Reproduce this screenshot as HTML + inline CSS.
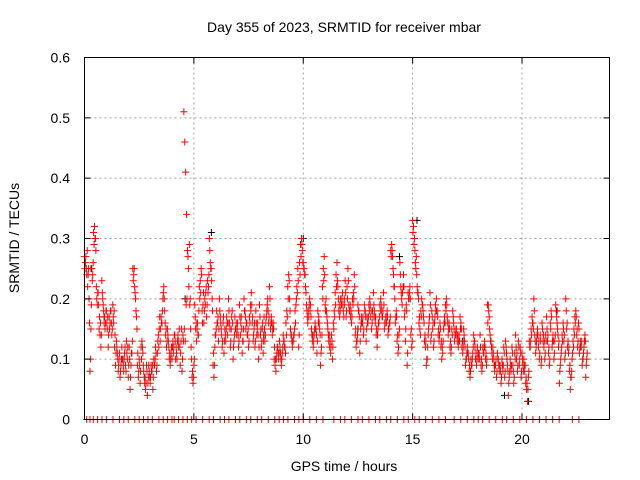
<!DOCTYPE html>
<html><head><meta charset="utf-8"><style>
body{margin:0;background:#fff}
svg{display:block;font-family:"Liberation Sans",sans-serif}
</style></head><body>
<svg id="chart" width="640" height="480" viewBox="0 0 640 480">
<g id="grid"></g>
<g id="marks"></g>
<rect x="84.5" y="57.5" width="525" height="362" fill="none" stroke="#000" stroke-width="1"/>
<g id="ticks"></g>
<text x="344" y="32" font-size="14" text-anchor="middle">Day 355 of 2023, SRMTID for receiver mbar</text>
<text x="344" y="471" font-size="14" text-anchor="middle">GPS time / hours</text>
<text transform="translate(19,238) rotate(-90)" font-size="14" text-anchor="middle">SRMTID / TECUs</text>
</svg>
<script>
const xTicks=[0,5,10,15,20];
const yTicks=[0,0.1,0.2,0.3,0.4,0.5,0.6];
const yTickLabels=["0","0.1","0.2","0.3","0.4","0.5","0.6"];
const hours=[0,1,2,3,4,5,6,7,8,9,10,11,12,13,14,15,16,17,18,19,20,21,22];
const h0=[.27,.26,.25,.28,.24,.20,.08,.15,.25,.24,.31,.32,.30,.22,.19,.21,.15,.14,.12,.23,.20,.18,.17,.16];
const h1=[.18,.15,.12,.17,.16,.18,.14,.19,.16,.12,.09,.13,.11,.08,.10,.07,.09,.12,.10,.08,.11,.09,.13,.10];
const h2=[.07,.12,.05,.09,.11,.25,.24,.22,.20,.17,.09,.07,.10,.06,.12,.13,.11,.08,.06,.05,.09,.04,.07,.08];
const h3=[.06,.09,.08,.05,.10,.09,.12,.08,.11,.14,.15,.13,.17,.16,.20,.22,.18,.14,.12,.15,.13,.10,.09,.11];
const h4=[.10,.13,.12,.14,.10,.11,.13,.12,.15,.09,.13,.08,.14,.51,.46,.41,.34,.28,.25,.29,.20,.12,.07,.06];
const h5=[.09,.19,.15,.13,.16,.14,.22,.23,.25,.18,.19,.16,.20,.21,.17,.23,.22,.30,.26,.25,.20,.09,.07,.12];
const h6=[.14,.18,.16,.13,.20,.17,.15,.12,.16,.11,.15,.13,.17,.14,.20,.16,.12,.15,.18,.10,.13,.17,.15,.14];
const h7=[.16,.12,.19,.14,.17,.11,.13,.20,.18,.15,.16,.14,.12,.17,.19,.21,.16,.13,.15,.12,.18,.14,.16,.10];
const h8=[.19,.14,.12,.15,.11,.17,.13,.16,.18,.20,.16,.22,.15,.17,.14,.16,.10,.09,.08,.11,.12,.10,.13,.11];
const h9=[.09,.11,.14,.13,.12,.16,.18,.22,.24,.20,.15,.14,.12,.13,.14,.18,.19,.22,.25,.12,.26,.29,.30,.28];
const h10=[.26,.25,.24,.21,.18,.16,.17,.20,.19,.15,.13,.12,.14,.16,.15,.11,.18,.17,.15,.09,.12,.22,.25,.27];
const h11=[.19,.20,.17,.15,.13,.12,.11,.14,.10,.16,.18,.21,.24,.26,.22,.18,.17,.20,.19,.21,.18,.20,.23,.17];
const h12=[.22,.25,.19,.18,.17,.16,.20,.21,.24,.14,.12,.13,.19,.18,.11,.15,.17,.16,.14,.19,.18,.13,.17,.16];
const h13=[.19,.20,.17,.15,.18,.21,.18,.16,.14,.12,.15,.16,.19,.20,.18,.17,.21,.15,.16,.17,.18,.14,.15,.16];
const h14=[.28,.29,.27,.24,.22,.16,.18,.13,.11,.14,.26,.22,.20,.21,.24,.17,.13,.19,.09,.21,.20,.22,.14,.12];
const h15=[.33,.32,.30,.26,.27,.22,.21,.16,.15,.18,.20,.19,.17,.13,.12,.09,.10,.14,.16,.21,.13,.18,.15,.12];
const h16=[.16,.19,.20,.18,.14,.13,.16,.12,.10,.11,.15,.17,.19,.20,.17,.14,.16,.12,.11,.15,.18,.16,.13,.14];
const h17=[.15,.13,.12,.14,.17,.16,.12,.11,.15,.13,.09,.10,.12,.11,.08,.07,.10,.09,.11,.14,.13,.10,.09,.12];
const h18=[.10,.11,.14,.09,.08,.12,.11,.13,.10,.09,.19,.19,.17,.14,.13,.11,.12,.10,.08,.09,.07,.11,.10,.08];
const h19=[.09,.06,.10,.08,.12,.07,.13,.11,.09,.04,.07,.10,.08,.12,.09,.06,.11,.14,.10,.08,.13,.09,.12,.07];
const h20=[.11,.09,.10,.08,.06,.05,.03,.07,.13,.12,.15,.17,.16,.20,.14,.11,.13,.15,.12,.10,.14,.09,.16,.13];
const h21=[.12,.10,.14,.17,.13,.11,.09,.16,.18,.12,.14,.10,.13,.19,.17,.15,.12,.06,.09,.11,.14,.16,.13,.10];
const h22=[.20,.15,.12,.11,.08,.05,.07,.10,.13,.15,.17,.18,.14,.12,.16,.11,.13,.12,.09,.10,.12,.14,.07,.10];
const g0=[.25,.27,.24,.22,.25,.16,.10,.19,.23,.26,.29,.30,.28,.20,.21,.19,.17,.16,.14,.21,.19,.16,.15,.18];
const g1=[.16,.17,.14,.15,.18,.16,.15,.17,.18,.14,.11,.12,.10,.09,.11,.08,.10,.10,.09,.10,.12,.08,.11,.12];
const g2=[.09,.10,.07,.11,.13,.23,.25,.21,.18,.15,.11,.08,.09,.08,.10,.12,.09,.07,.07,.06,.08,.06,.09,.07];
const g3=[.07,.08,.09,.07,.09,.10,.11,.09,.13,.12,.17,.15,.16,.18,.21,.20,.16,.15,.13,.14,.12,.11,.10,.12];
const g4=[.12,.11,.14,.13,.12,.10,.14,.13,.12,.11,.15,.10,.13,.15,.13,.19,.20,.27,.22,.19,.15,.10,.08,.07];
const g5=[.10,.17,.16,.15,.14,.18,.20,.21,.24,.16,.21,.18,.19,.22,.19,.21,.24,.28,.25,.23,.18,.11,.09,.14];
const g6=[.15,.16,.17,.15,.18,.16,.14,.13,.17,.13,.14,.15,.16,.16,.18,.15,.13,.17,.16,.12,.14,.15,.16,.15];
const g7=[.14,.13,.17,.16,.15,.13,.15,.18,.17,.16,.14,.15,.13,.16,.18,.19,.17,.14,.16,.13,.16,.15,.14,.12];
const g8=[.17,.15,.13,.16,.13,.15,.14,.17,.19,.18,.17,.20,.16,.16,.15,.15,.12,.10,.10,.12,.11,.11,.12,.10];
const g9=[.10,.12,.13,.12,.11,.14,.17,.20,.23,.18,.14,.13,.13,.14,.15,.16,.20,.21,.23,.14,.24,.27,.29,.26];
const g10=[.25,.24,.22,.19,.17,.18,.19,.18,.17,.14,.14,.13,.15,.15,.14,.13,.16,.16,.14,.11,.14,.20,.23,.24];
const g11=[.18,.18,.16,.14,.14,.13,.12,.13,.12,.15,.17,.19,.22,.23,.20,.19,.18,.19,.20,.19,.17,.19,.21,.18];
const g12=[.20,.23,.18,.19,.18,.17,.19,.20,.22,.15,.13,.14,.18,.17,.13,.16,.16,.17,.15,.18,.17,.15,.16,.17];
const g13=[.18,.19,.18,.16,.17,.19,.17,.17,.15,.14,.16,.17,.18,.19,.17,.18,.19,.16,.17,.16,.17,.15,.16,.17];
const g14=[.27,.28,.25,.22,.20,.17,.17,.14,.12,.15,.24,.21,.19,.22,.22,.18,.15,.18,.11,.20,.21,.20,.15,.13];
const g15=[.31,.29,.28,.25,.24,.21,.20,.17,.14,.17,.19,.18,.16,.14,.13,.10,.12,.15,.17,.19,.14,.17,.16,.13];
const g16=[.17,.18,.18,.17,.15,.14,.15,.13,.12,.13,.16,.16,.18,.19,.16,.15,.15,.13,.12,.14,.17,.15,.14,.15];
const g17=[.14,.14,.13,.13,.15,.15,.13,.12,.14,.12,.10,.11,.11,.10,.09,.08,.09,.10,.12,.13,.12,.11,.10,.11];
const g18=[.11,.10,.12,.10,.09,.11,.12,.12,.11,.10,.16,.18,.15,.13,.12,.10,.11,.09,.09,.10,.08,.10,.09,.09];
const g19=[.08,.07,.09,.09,.11,.08,.12,.10,.08,.06,.08,.09,.09,.11,.08,.07,.10,.12,.11,.09,.12,.10,.11,.08];
const g20=[.10,.08,.09,.09,.07,.06,.05,.08,.12,.13,.14,.16,.15,.18,.13,.12,.14,.14,.13,.11,.13,.10,.15,.14];
const g21=[.13,.11,.13,.15,.14,.12,.10,.15,.17,.13,.13,.11,.14,.18,.16,.14,.13,.08,.10,.12,.13,.15,.14,.11];
const g22=[.18,.16,.13,.12,.09,.07,.08,.11,.12,.14,.16,.17,.15,.13,.15,.12,.12,.13,.10,.11,.13,.13,.09,.11];
const hourValues=[h0,h1,h2,h3,h4,h5,h6,h7,h8,h9,h10,h11,h12,h13,h14,h15,h16,h17,h18,h19,h20,h21,h22];
const hourValues2=[g0,g1,g2,g3,g4,g5,g6,g7,g8,g9,g10,g11,g12,g13,g14,g15,g16,g17,g18,g19,g20,g21,g22];
const blackTimes=[0.3,0.9,4.6,5.8,8.2,10.0,12.5,14.4,15.2,17.3,19.2,20.3,21.6];
const blackValues=[.25,.17,.20,.31,.14,.30,.15,.27,.33,.13,.04,.03,.18];
const zeroTimes=[0.1,0.25,0.4,0.6,0.8,1.0,1.3,1.6,1.8,2.0,2.3,2.5,2.7,2.9,3.1,3.4,3.6,3.8,4.0,4.1,4.3,4.5,4.7,4.9,5.1,5.4,5.7,5.9,6.2,6.4,6.6,6.9,7.1,7.4,7.6,7.9,8.1,8.4,8.7,8.9,9.1,9.3,9.6,9.8,10.0,10.3,10.6,10.9,11.4,11.7,11.9,12.2,12.5,12.7,13.0,13.3,13.5,13.8,14.0,14.3,14.6,14.8,15.1,15.3,15.6,15.9,16.2,16.5,16.9,17.2,17.5,17.8,18.0,18.2,18.5,18.8,19.1,19.3,19.6,19.9,20.2,20.5,20.8,21.1,21.4,21.7,22.3,22.6];
const X=t=>84.5+t*(525/24);
const Y=v=>419.5-v*(362/0.6);
const ns="http://www.w3.org/2000/svg";
const grid=document.getElementById('grid'),ticks=document.getElementById('ticks'),marks=document.getElementById('marks');
function mk(tag,attrs,parent){const e=document.createElementNS(ns,tag);for(const k in attrs)e.setAttribute(k,attrs[k]);parent.appendChild(e);return e;}
xTicks.forEach(t=>{
 if(t>0){const g=mk('line',{x1:X(t),x2:X(t),y1:57.5,y2:419.5,stroke:'#a0a0a0','stroke-dasharray':'2,3'},grid);
 
 }
 const tk=mk('path',{d:`M${X(t)} 419.5v-6M${X(t)} 57.5v6`,stroke:'#000'},ticks);
 
 
 const lb=mk('text',{x:X(t),y:444,'font-size':14,'text-anchor':'middle'},ticks);lb.textContent=t;
 
 
});
yTicks.forEach((v,i)=>{
 if(v>0&&v<0.6){const g=mk('line',{x1:84.5,x2:609.5,y1:Y(v),y2:Y(v),stroke:'#a0a0a0','stroke-dasharray':'2,3'},grid);
 
 }
 const tk=mk('path',{d:`M84.5 ${Y(v)}h6M609.5 ${Y(v)}h-6`,stroke:'#000'},ticks);
 
 
 const lb=mk('text',{x:70,y:Y(v)+5,'font-size':14,'text-anchor':'end'},ticks);lb.textContent=yTickLabels[i];
 
 
});
function cross(x,y){return `M${x-3.5} ${y}h7M${x} ${y-3.5}v7`;}
let db='';
blackTimes.forEach((t,i)=>{db+=cross(X(t),Y(blackValues[i]));});
const pb=mk('path',{d:db,stroke:'#000','stroke-width':1,fill:'none'},marks);


let dr='';
hours.forEach((h,i)=>{
 const vals=hourValues[i];vals.forEach((v,j)=>{dr+=cross(X(h+j/vals.length),Y(v));});
 const vals2=hourValues2[i];vals2.forEach((v,j)=>{dr+=cross(X(h+(j+0.5)/vals2.length),Y(v));});
});
zeroTimes.forEach(t=>{dr+=cross(X(t),Y(0));});
const pr=mk('path',{d:dr,stroke:'#ff0000','stroke-width':1,fill:'none'},marks);


</script>
</body></html>
